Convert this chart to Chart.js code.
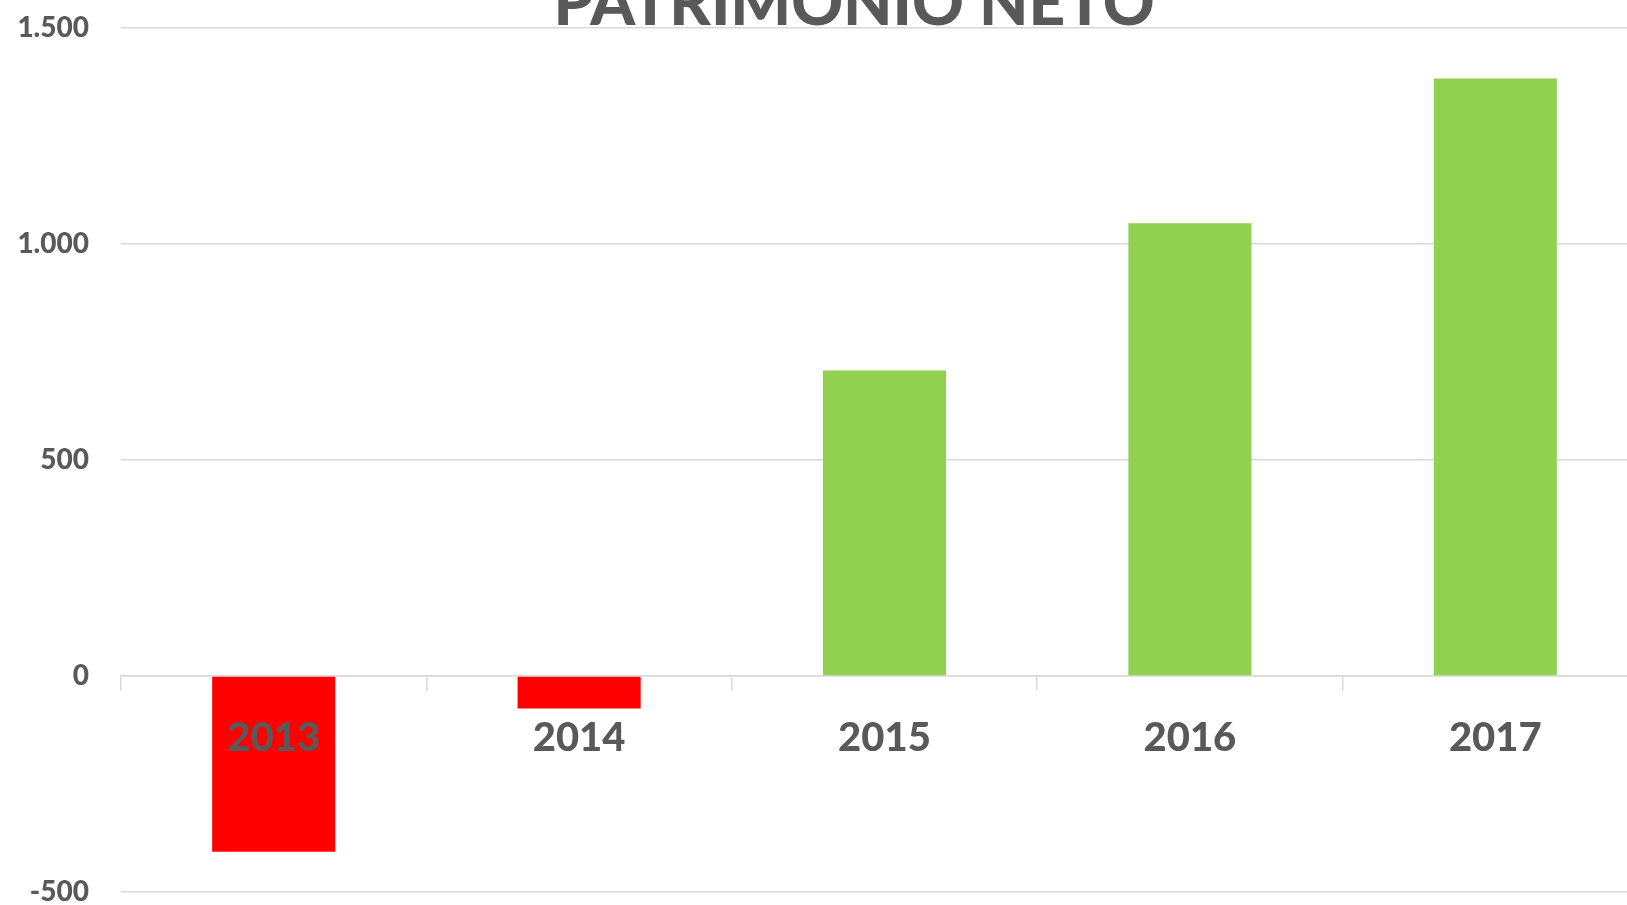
<!DOCTYPE html>
<html>
<head>
<meta charset="utf-8">
<script src="https://cdn.jsdelivr.net/npm/chart.js@4.4.1/dist/chart.umd.min.js"></script>
<style>
  html, body { margin: 0; padding: 0; overflow: hidden; background: #fff; width: 1627px; height: 905px; }
  #wrap { position: absolute; left: 0; top: 0; width: 1708px; height: 905px; }
</style>
</head>
<body>
<div id="wrap"><canvas id="c" width="1708" height="905"></canvas></div>
<script>
const categories = ['2013', '2014', '2015', '2016', '2017'];
const values = [-407, -75, 707, 1048, 1383];
const barColors = ['#FF0000', '#FF0000', '#92D050', '#92D050', '#92D050'];
const yTicks = [-500, 0, 500, 1000, 1500];
const titleText = 'PATRIMONIO NETO';

const textColor = '#595959';
const gridColor = '#d9d9d9';

function fmt(v) {
  const s = Math.abs(v).toString().replace(/\B(?=(\d{3})+(?!\d))/g, '.');
  return (v < 0 ? '-' : '') + s;
}

// Title drawn as canvas text, centred over the original (wider, cropped) chart frame
const titlePlugin = {
  id: 'croppedTitle',
  afterDraw(chart) {
    const ctx = chart.ctx;
    ctx.save();
    ctx.font = '900 64px Lato';
    ctx.fillStyle = textColor;
    ctx.textAlign = 'center';
    ctx.textBaseline = 'alphabetic';
    ctx.fillText(titleText, 854, 25);
    ctx.restore();
  }
};

new Chart(document.getElementById('c'), {
  type: 'bar',
  data: {
    labels: categories,
    datasets: [{
      data: values,
      backgroundColor: barColors,
      borderWidth: 0,
      barPercentage: 1,
      categoryPercentage: 0.403
    }]
  },
  plugins: [titlePlugin],
  options: {
    responsive: false,
    animation: false,
    layout: { padding: { top: 28, bottom: 13, left: 0, right: 60 } },
    plugins: {
      legend: { display: false },
      tooltip: { enabled: false },
      title: { display: false }
    },
    scales: {
      x: {
        position: { y: 0 },
        offset: true,
        afterFit: (scale) => { scale.height = 0; scale.paddingLeft = 0; scale.paddingRight = 0; },
        grid: {
          offset: true,
          drawOnChartArea: false,
          drawTicks: true,
          tickLength: 14,
          color: gridColor,
          lineWidth: 1.5
        },
        border: { display: true, color: gridColor, width: 1.5 },
        ticks: {
          z: 1,
          color: textColor,
          padding: 24,
          font: { family: 'Lato', weight: 900, size: 40 }
        }
      },
      y: {
        min: -500,
        max: 1500,
        afterBuildTicks: (scale) => { scale.ticks = yTicks.map(v => ({ value: v })); },
        afterFit: (scale) => { scale.width = 121; scale.paddingTop = 0; scale.paddingBottom = 0; },
        grid: { color: gridColor, lineWidth: 1.5, drawTicks: false },
        border: { display: false },
        ticks: {
          color: textColor,
          padding: 32,
          font: { family: 'Lato', weight: 900, size: 28 },
          callback: (v) => fmt(v)
        }
      }
    }
  }
});
</script>
</body>
</html>
